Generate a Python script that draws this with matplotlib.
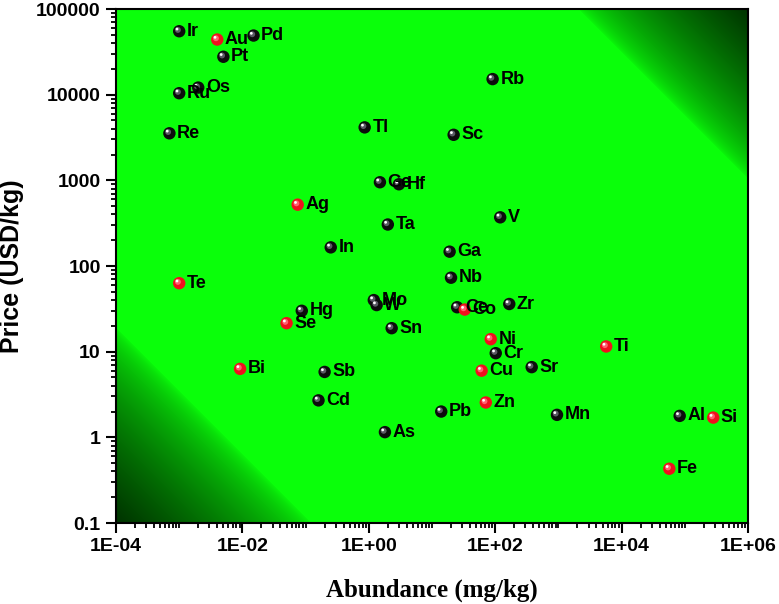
import numpy as np
import matplotlib
matplotlib.use('Agg')
import matplotlib.pyplot as plt
from matplotlib import ticker, transforms

# data
elements = ['Ir', 'Au', 'Pd', 'Pt', 'Os', 'Ru', 'Re', 'Tl', 'Ge', 'Hf',
            'Ag', 'Sc', 'Rb', 'V', 'Ta', 'In', 'Ga', 'Nb', 'Mo', 'W',
            'Ce', 'Co', 'Zr', 'Hg', 'Se', 'Sn', 'Te', 'Ni', 'Cr', 'Ti',
            'Bi', 'Sb', 'Cu', 'Sr', 'Cd', 'Zn', 'Pb', 'Mn', 'Al', 'Si',
            'As', 'Fe']
abundance = [0.001, 0.004, 0.015, 0.005, 0.002, 0.001, 0.0007, 0.86, 1.5, 3.0,
             0.075, 22, 91, 120, 2.0, 0.25, 19, 20, 1.2, 1.33,
             25, 33, 167, 0.087, 0.05, 2.3, 0.001, 85, 102, 5700,
             0.0092, 0.2, 61, 378, 0.16, 71, 14, 950, 83000, 282000,
             1.8, 56900]
price = [55000, 44000, 49000, 27700, 12100, 10400, 3540, 4150, 950, 900,
         520, 3400, 15200, 370, 305, 165, 147, 73, 40, 35,
         33, 31, 36, 30, 21.5, 18.8, 63, 14, 9.6, 11.5,
         6.3, 5.8, 6.0, 6.6, 2.7, 2.55, 2.0, 1.83, 1.78, 1.7,
         1.15, 0.43]
red_ones = ['Au', 'Ag', 'Co', 'Se', 'Te', 'Ni', 'Ti', 'Bi', 'Cu', 'Zn', 'Si', 'Fe']

W, H = 779, 604
fig = plt.figure(figsize=(W / 100, H / 100), dpi=100)
left, right, top, bottom = 116, 748, 9, 523
ax = fig.add_axes([left / W, 1 - bottom / H, (right - left) / W, (bottom - top) / H])

# background: bright green with dark corners top-right and bottom-left
pw, ph = right - left, bottom - top
jj, ii = np.meshgrid(np.arange(pw), np.arange(ph))
d = jj + (ph - 1 - ii)
t_tr = np.clip((d - 975) / (pw + ph - 975), 0, 1) ** 0.6
t_bl = np.clip((195 - d) / 195, 0, 1) ** 0.6
a = np.maximum(t_tr, t_bl)[..., None]
bright = np.array([0.04, 1.0, 0.04])
dark = np.array([0.0, 0.2, 0.0])
img = bright * (1 - a) + dark * a
ax.imshow(img, extent=[0, 1, 0, 1], transform=ax.transAxes, aspect='auto',
          interpolation='bilinear', zorder=0)

ax.set_xscale('log')
ax.set_yscale('log')

x = np.array(abundance)
y = np.array(price)
is_red = np.array([e in red_ones for e in elements])

hl1 = transforms.offset_copy(ax.transData, fig=fig, x=-1.3, y=1.3, units='dots')
hl2 = transforms.offset_copy(ax.transData, fig=fig, x=-2.2, y=2.2, units='dots')
for mask, base, mid in [(~is_red, '#0c0c0c', '#5a5a64'), (is_red, '#f0101e', '#ff6070')]:
    ax.scatter(x[mask], y[mask], s=80, color=base, edgecolors='none', zorder=3)
    ax.scatter(x[mask], y[mask], s=18, color=mid, edgecolors='none', zorder=4, transform=hl1)
    ax.scatter(x[mask], y[mask], s=4, color='white', edgecolors='none', zorder=5, transform=hl2)

for e, xi, yi in zip(elements, abundance, price):
    ax.annotate(e, (xi, yi), xytext=(5.5, 0), textcoords='offset points',
                ha='left', va='center', fontsize=13, fontweight='bold',
                family='Liberation Sans', color='black', zorder=6)

ax.set_xlim(1e-4, 1e6)
ax.set_ylim(0.1, 1e5)

ax.xaxis.set_major_locator(ticker.LogLocator(base=100, numticks=20))
ax.xaxis.set_minor_locator(ticker.LogLocator(base=10, subs=np.arange(1, 10), numticks=40))
ax.xaxis.set_minor_formatter(ticker.NullFormatter())
ax.xaxis.set_major_formatter(ticker.FuncFormatter(
    lambda v, p: '1E{:+03d}'.format(int(round(np.log10(v))))))
ax.yaxis.set_major_locator(ticker.LogLocator(base=10, numticks=20))
ax.yaxis.set_minor_locator(ticker.LogLocator(base=10, subs=np.arange(2, 10), numticks=40))
ax.yaxis.set_minor_formatter(ticker.NullFormatter())
ax.yaxis.set_major_formatter(ticker.FuncFormatter(
    lambda v, p: '0.1' if v < 1 else '%d' % int(round(v))))

ax.tick_params(which='major', direction='out', length=7, width=1.5, pad=4)
ax.tick_params(which='minor', direction='out', length=3.5, width=1.3)
ax.tick_params(top=False, right=False)
for lab in ax.get_xticklabels() + ax.get_yticklabels():
    lab.set_family('Liberation Sans')
    lab.set_fontweight('bold')
    lab.set_fontsize(14)
for sp in ax.spines.values():
    sp.set_linewidth(1.5)
    sp.set_zorder(7)

fig.text(12 / W, 1 - 266 / H, 'Price (USD/kg)', rotation=90, ha='center', va='center',
         fontsize=18, fontweight='bold', family='Liberation Sans')
fig.text((left + right) / 2 / W, 1 - 590 / H, 'Abundance (mg/kg)', ha='center', va='center',
         fontsize=18, fontweight='bold', family='Liberation Serif')

fig.savefig('out.png', dpi=100)
